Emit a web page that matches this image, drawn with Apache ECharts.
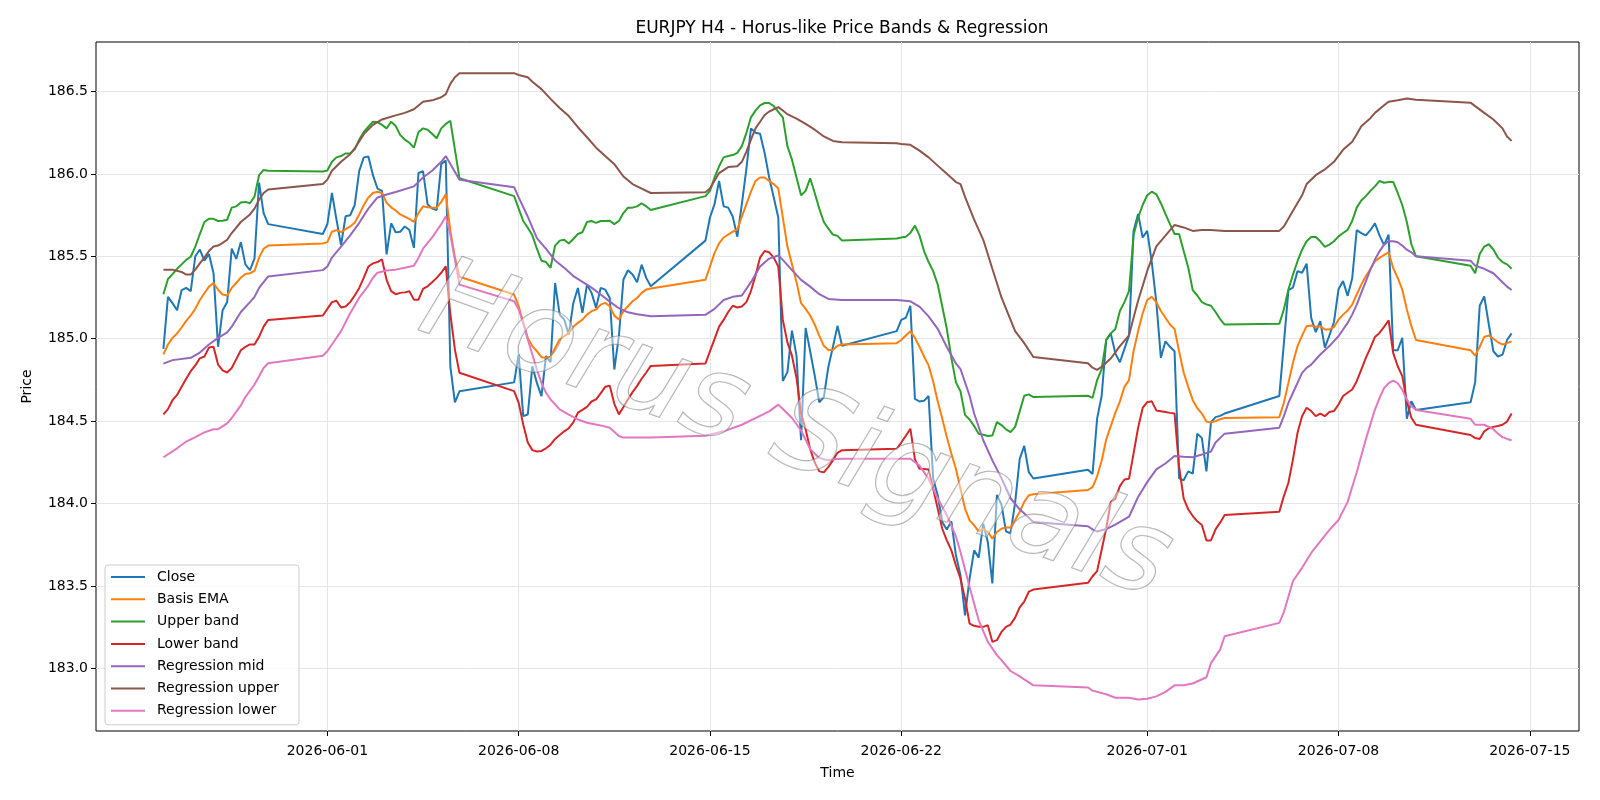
<!DOCTYPE html>
<html>
<head>
<meta charset="utf-8">
<title>EURJPY H4</title>
<script src="https://cdn.jsdelivr.net/npm/echarts@6/dist/echarts.min.js"></script>
<style>
  html, body { margin: 0; padding: 0; background: #fff; }
  #main { width: 1600px; height: 800px; }
</style>
</head>
<body>
<div id="main"></div>
<script>
// each row: [MM-DD, 00h, 04h, 08h, 12h, 16h, 20h]  (H4 bars, 2026)
var closeRows = [
  ['05-26',184.938,185.254,185.216,185.173,185.295,185.308],
  ['05-27',185.289,185.5,185.541,185.473,185.514,185.397],
  ['05-28',184.951,185.173,185.222,185.546,185.484,185.586],
  ['05-29',185.451,185.416,185.486,185.946,185.762,185.695],
  ['05-31',null,null,null,null,null,185.635],
  ['06-01',185.695,185.884,185.722,185.568,185.743,185.749],
  ['06-02',185.811,186.019,186.1,186.105,185.992,185.911],
  ['06-03',185.897,185.511,185.7,185.645,185.649,185.681],
  ['06-04',185.659,185.551,186.005,186.016,185.816,185.789],
  ['06-05',185.781,186.059,186.081,184.83,184.614,184.681],
  ['06-07',null,null,null,null,null,184.735],
  ['06-08',184.904,184.53,184.54,184.833,184.732,184.652],
  ['06-09',184.894,184.858,185.338,185.146,185.116,185.025],
  ['06-10',185.217,185.308,185.157,185.328,185.278,185.187],
  ['06-11',185.308,185.298,185.247,184.813,185.015,185.359],
  ['06-12',185.415,185.389,185.342,185.449,185.369,185.318],
  ['06-14',null,null,null,null,null,185.595],
  ['06-15',185.735,185.816,185.957,185.803,185.795,185.741],
  ['06-16',185.619,185.816,186.032,186.276,186.249,186.243],
  ['06-17',186.127,185.978,185.857,185.735,184.743,184.797],
  ['06-18',185.049,184.897,184.384,185.065,184.924,184.776],
  ['06-19',184.614,184.646,184.83,184.951,185.078,184.957],
  ['06-21',null,null,null,null,null,185.046],
  ['06-22',185.114,185.127,185.2,184.635,184.619,184.623],
  ['06-23',184.652,184.15,184.05,183.888,183.843,183.892],
  ['06-24',183.686,183.565,183.322,183.544,183.716,183.672],
  ['06-25',183.878,183.767,183.515,184.053,183.993,183.831],
  ['06-26',183.82,184.005,184.27,184.35,184.19,184.152],
  ['06-28',null,null,null,null,null,184.205],
  ['06-29',184.179,184.515,184.654,184.992,185.032,184.911],
  ['06-30',184.857,184.938,185.019,185.654,185.757,185.614],
  ['07-01',185.654,185.465,185.222,184.884,184.984,184.951],
  ['07-02',184.924,184.154,184.141,184.195,184.181,184.424],
  ['07-03',184.397,184.195,184.492,184.524,184.532,184.546],
  ['07-05',null,null,null,null,null,184.652],
  ['07-06',184.97,185.295,185.31,185.41,185.4,185.455],
  ['07-07',185.126,185.04,185.106,184.946,185.02,185.1],
  ['07-08',185.3,185.35,185.26,185.365,185.659,185.641],
  ['07-09',185.627,185.659,185.7,185.627,185.568,185.632],
  ['07-10',184.93,184.93,185.005,184.515,184.62,184.568],
  ['07-12',null,null,null,null,null,184.614],
  ['07-13',184.735,185.2,185.257,185.086,184.924,184.892],
  ['07-14',184.903,184.992,185.032]
];

var emaRows = [
  ['05-26',184.905,184.965,185.005,185.032,185.068,185.108],
  ['05-27',185.141,185.181,185.235,185.276,185.316,185.338],
  ['05-28',185.297,185.268,185.262,185.308,185.338,185.37],
  ['05-29',185.392,185.397,185.411,185.492,185.546,185.565],
  ['05-31',null,null,null,null,null,185.578],
  ['06-01',185.586,185.649,185.659,185.646,185.665,185.681],
  ['06-02',185.703,185.754,185.811,185.857,185.884,185.892],
  ['06-03',185.884,185.824,185.797,185.778,185.754,185.741],
  ['06-04',185.727,185.708,185.762,185.803,185.797,185.795],
  ['06-05',185.795,185.83,185.876,185.654,185.492,185.376],
  ['06-07',null,null,null,null,null,185.268],
  ['06-08',185.197,185.096,185.005,184.955,184.924,184.888],
  ['06-09',184.884,184.89,184.944,184.995,185.015,185.035],
  ['06-10',185.072,185.096,185.116,185.146,185.167,185.177],
  ['06-11',185.207,185.217,185.197,185.14,185.116,185.167],
  ['06-12',185.197,185.227,185.247,185.278,185.298,185.304],
  ['06-14',null,null,null,null,null,185.357],
  ['06-15',185.438,185.519,185.578,185.614,185.632,185.649],
  ['06-16',185.662,185.741,185.816,185.892,185.957,185.978],
  ['06-17',185.978,185.957,185.938,185.911,185.735,185.559],
  ['06-18',185.451,185.343,185.216,185.181,185.141,185.086],
  ['06-19',185.019,184.957,184.932,184.932,184.957,184.965],
  ['06-21',null,null,null,null,null,184.973],
  ['06-22',184.992,185.019,185.046,185.005,184.951,184.892],
  ['06-23',184.838,184.74,184.62,184.514,184.403,184.302],
  ['06-24',184.211,184.09,183.969,183.898,183.868,183.831],
  ['06-25',183.847,183.827,183.787,183.827,183.847,183.855],
  ['06-26',183.855,183.9,183.95,184.01,184.05,184.056],
  ['06-28',null,null,null,null,null,184.082],
  ['06-29',184.1,184.165,184.26,184.389,184.47,184.55],
  ['06-30',184.62,184.708,184.749,184.924,185.046,185.154],
  ['07-01',185.235,185.254,185.222,185.168,185.127,185.086],
  ['07-02',185.059,184.924,184.795,184.708,184.627,184.578],
  ['07-03',184.546,184.497,184.492,184.5,184.511,184.519],
  ['07-05',null,null,null,null,null,184.524],
  ['07-06',184.611,184.732,184.854,184.955,185.019,185.076],
  ['07-07',185.08,185.072,185.076,185.056,185.056,185.07],
  ['07-08',185.116,185.146,185.171,185.207,185.268,185.328],
  ['07-09',185.379,185.423,185.47,185.49,185.508,185.524],
  ['07-10',185.429,185.369,185.298,185.177,185.076,184.992],
  ['07-12',null,null,null,null,null,184.93],
  ['07-13',184.897,184.951,185.011,185.019,185.0,184.978],
  ['07-14',184.965,184.973,184.984]
];

var upperRows = [
  ['05-26',185.27,185.362,185.392,185.424,185.451,185.478],
  ['05-27',185.497,185.559,185.635,185.708,185.727,185.727],
  ['05-28',185.714,185.716,185.722,185.795,185.803,185.827],
  ['05-29',185.83,185.822,185.862,185.992,186.024,186.019],
  ['05-31',null,null,null,null,null,186.014],
  ['06-01',186.02,186.073,186.1,186.108,186.124,186.124],
  ['06-02',186.149,186.208,186.254,186.286,186.316,186.314],
  ['06-03',186.297,186.276,186.316,186.29,186.235,186.208],
  ['06-04',186.189,186.159,186.254,186.276,186.268,186.243],
  ['06-05',186.216,186.276,186.303,186.322,null,185.973],
  ['06-07',null,null,null,null,null,185.865],
  ['06-08',185.789,185.714,185.673,185.627,185.546,185.473],
  ['06-09',185.465,185.43,185.565,185.595,185.6,185.578],
  ['06-10',185.605,185.635,185.646,185.708,185.714,185.703],
  ['06-11',185.714,185.714,185.716,185.695,185.714,185.762],
  ['06-12',185.795,185.795,185.803,185.822,185.803,185.781],
  ['06-14',null,null,null,null,null,185.865],
  ['06-15',185.897,185.978,186.046,186.1,186.108,186.114],
  ['06-16',186.127,186.168,186.249,186.343,186.384,186.416],
  ['06-17',186.43,186.43,186.411,186.376,186.343,186.168],
  ['06-18',186.086,185.978,185.87,185.897,185.973,185.884],
  ['06-19',185.789,185.708,185.668,185.632,185.624,185.595],
  ['06-21',null,null,null,null,null,185.608],
  ['06-22',185.614,185.619,185.641,185.686,185.627,185.532],
  ['06-23',185.465,185.41,185.33,185.195,185.06,184.884],
  ['06-24',184.735,184.681,184.538,184.51,184.47,184.423],
  ['06-25',184.417,184.41,184.413,184.494,184.476,184.45],
  ['06-26',184.433,184.465,184.559,184.654,184.662,184.646],
  ['06-28',null,null,null,null,null,184.654],
  ['06-29',184.641,184.749,184.816,184.992,185.032,185.059],
  ['06-30',185.168,185.222,185.289,185.627,185.735,185.811],
  ['07-01',185.87,185.892,185.876,185.822,185.757,185.695],
  ['07-02',185.635,185.635,185.532,185.432,185.295,185.262],
  ['07-03',185.222,185.208,185.2,185.162,185.119,185.086],
  ['07-05',null,null,null,null,null,185.09],
  ['07-06',185.177,185.298,185.389,185.47,185.54,185.591],
  ['07-07',185.617,185.617,185.591,185.557,185.571,185.591],
  ['07-08',185.621,185.641,185.66,185.714,185.795,185.838],
  ['07-09',185.865,185.897,185.924,185.957,185.946,185.951],
  ['07-10',185.951,185.884,185.811,185.708,185.573,185.5],
  ['07-12',null,null,null,null,null,185.443],
  ['07-13',185.397,185.514,185.559,185.573,185.541,185.492],
  ['07-14',185.465,185.451,185.424]
];

var lowerRows = [
  ['05-26',184.541,184.573,184.627,184.659,184.708,184.757],
  ['05-27',184.803,184.838,184.881,184.892,184.946,184.951],
  ['05-28',184.843,184.808,184.795,184.822,184.876,184.93],
  ['05-29',184.951,184.965,184.965,185.011,185.073,185.114],
  ['05-31',null,null,null,null,null,185.141],
  ['06-01',185.181,185.222,185.23,185.189,185.195,185.222],
  ['06-02',185.262,185.308,185.37,185.438,185.457,185.465],
  ['06-03',185.481,185.357,185.289,185.27,185.278,185.281],
  ['06-04',185.288,185.237,185.237,185.302,185.318,185.342],
  ['06-05',185.369,185.4,185.439,185.15,184.934,184.793],
  ['06-07',null,null,null,null,null,184.682],
  ['06-08',184.611,184.48,184.37,184.324,184.316,184.319],
  ['06-09',184.335,184.357,184.392,184.416,184.438,184.457],
  ['06-10',184.492,184.551,184.568,184.586,184.619,184.632],
  ['06-11',184.668,184.708,184.714,184.605,184.541,184.586],
  ['06-12',184.632,184.676,184.714,184.757,184.795,184.835],
  ['06-14',null,null,null,null,null,184.849],
  ['06-15',184.924,184.997,185.073,185.114,185.162,185.2],
  ['06-16',185.189,185.195,185.222,185.289,185.384,185.492],
  ['06-17',185.532,185.524,185.492,185.438,185.114,184.978],
  ['06-18',184.897,184.762,184.546,184.451,184.33,184.249],
  ['06-19',184.195,184.189,184.222,184.262,184.308,184.324],
  ['06-21',null,null,null,null,null,184.332],
  ['06-22',184.37,184.411,184.454,184.268,184.211,184.21],
  ['06-23',184.207,184.09,183.969,183.847,183.777,183.716],
  ['06-24',183.625,183.544,183.423,183.272,183.258,183.252],
  ['06-25',183.252,183.262,183.161,183.171,183.221,183.252],
  ['06-26',183.266,183.308,183.37,183.405,183.465,183.478],
  ['06-28',null,null,null,null,null,183.519],
  ['06-29',183.559,183.59,183.72,183.85,184.01,184.028],
  ['06-30',184.106,184.146,184.15,184.303,184.46,184.58],
  ['07-01',184.615,184.62,184.565,184.56,184.555,184.55],
  ['07-02',184.546,184.222,184.032,183.965,183.924,183.892],
  ['07-03',183.87,183.776,183.776,183.843,183.884,183.93],
  ['07-05',null,null,null,null,null,183.95],
  ['07-06',184.045,184.126,184.268,184.429,184.53,184.581],
  ['07-07',184.561,184.53,184.546,184.53,184.555,184.561],
  ['07-08',184.601,184.652,184.672,184.692,184.742,184.813],
  ['07-09',184.884,184.944,185.011,185.035,185.072,185.112],
  ['07-10',184.914,184.833,184.773,184.62,184.52,184.478],
  ['07-12',null,null,null,null,null,184.416],
  ['07-13',184.397,184.392,184.438,184.457,184.465,184.47],
  ['07-14',184.478,184.497,184.546]
];

var regMidRows = [
  ['05-26',184.849,null,184.87,null,null,null],
  ['05-27',184.884,null,184.916,null,184.965,null],
  ['05-28',185.005,null,185.038,185.073,null,185.162],
  ['05-29',null,185.222,185.254,185.308,null,185.378],
  ['05-31',null,null,null,null,null,185.416],
  ['06-01',185.438,185.492,null,185.559,null,185.627],
  ['06-02',null,185.703,null,185.789,null,185.857],
  ['06-03',null,185.875,null,185.89,null,null],
  ['06-04',null,185.924,null,185.978,null,186.019],
  ['06-05',null,186.073,186.108,186.06,null,185.965],
  ['06-07',null,null,null,null,null,185.919],
  ['06-08',185.857,null,185.74,null,185.61,null],
  ['06-09',185.545,null,185.475,null,185.43,null],
  ['06-10',185.38,null,185.345,null,185.31,null],
  ['06-11',185.268,null,185.225,null,185.185,null],
  ['06-12',185.16,null,185.148,null,null,185.136],
  ['06-14',null,null,null,null,null,185.145],
  ['06-15',null,185.181,null,185.235,null,185.254],
  ['06-16',null,185.262,null,185.343,null,185.438],
  ['06-17',null,185.486,null,185.505,185.478,null],
  ['06-18',185.416,null,185.357,null,185.316,null],
  ['06-19',185.27,null,185.241,null,null,185.235],
  ['06-21',null,null,null,null,null,185.235],
  ['06-22',null,null,185.227,null,185.195,null],
  ['06-23',185.135,null,185.06,null,184.95,null],
  ['06-24',184.85,184.816,null,184.654,184.546,null],
  ['06-25',184.384,null,184.262,null,184.154,null],
  ['06-26',184.032,null,183.965,null,null,183.888],
  ['06-28',null,null,null,null,null,183.862],
  ['06-29',183.843,183.83,null,183.845,null,183.872],
  ['06-30',null,null,183.92,null,184.04,null],
  ['07-01',184.13,null,184.207,null,184.243,null],
  ['07-02',184.289,null,184.284,null,184.281,null],
  ['07-03',184.297,null,184.316,184.37,null,184.424],
  ['07-05',null,null,null,null,null,184.46],
  ['07-06',184.53,184.611,184.672,184.732,184.793,184.823],
  ['07-07',184.843,184.874,184.904,184.93,184.955,184.985],
  ['07-08',185.015,185.056,185.096,185.146,185.207,185.278],
  ['07-09',185.348,185.419,185.48,185.53,185.571,185.591],
  ['07-10',185.591,185.585,185.565,185.54,185.524,185.5],
  ['07-12',null,null,null,null,null,185.473],
  ['07-13',185.443,null,185.424,null,185.397,null],
  ['07-14',185.343,185.316,185.295]
];

var regUpperRows = [
  ['05-26',185.419,null,185.419,null,185.405,185.389],
  ['05-27',185.389,185.419,185.457,185.492,185.532,185.559],
  ['05-28',185.565,185.581,185.6,185.641,null,185.708],
  ['05-29',null,185.754,185.789,185.843,185.884,185.905],
  ['05-31',null,null,null,null,null,185.938],
  ['06-01',185.965,186.019,null,186.073,null,186.119],
  ['06-02',186.154,null,186.241,null,186.297,null],
  ['06-03',186.33,null,null,186.355,null,186.37],
  ['06-04',null,186.392,null,186.438,null,186.446],
  ['06-05',null,186.465,186.484,186.546,186.586,186.611],
  ['06-07',null,null,null,null,null,186.611],
  ['06-08',186.6,null,186.586,186.559,null,186.514],
  ['06-09',null,186.455,null,186.4,null,186.351],
  ['06-10',null,186.283,null,186.222,null,186.159],
  ['06-11',null,186.108,null,186.059,null,185.984],
  ['06-12',null,185.938,null,185.911,null,185.884],
  ['06-14',null,null,null,null,null,185.889],
  ['06-15',185.911,null,186.005,null,186.041,null],
  ['06-16',186.046,186.073,186.135,186.208,186.276,186.316],
  ['06-17',186.357,186.378,186.392,186.405,186.384,186.362],
  ['06-18',null,186.335,null,186.303,null,186.268],
  ['06-19',null,186.227,null,186.2,null,186.192],
  ['06-21',null,null,null,null,null,186.186],
  ['06-22',186.181,null,186.176,null,186.141,null],
  ['06-23',186.1,null,186.05,null,186.0,null],
  ['06-24',185.95,185.938,185.86,null,185.722,null],
  ['06-25',185.6,null,185.424,null,185.25,null],
  ['06-26',null,185.046,null,184.973,null,184.889],
  ['06-28',null,null,null,null,null,184.851],
  ['06-29',184.824,184.811,184.83,null,184.88,null],
  ['06-30',184.955,null,185.02,185.127,185.23,null],
  ['07-01',185.411,null,185.56,null,185.625,null],
  ['07-02',185.69,null,185.675,null,185.654,null],
  ['07-03',185.659,null,185.659,null,null,185.654],
  ['07-05',null,null,null,null,null,185.654],
  ['07-06',185.681,null,185.776,null,185.87,185.938],
  ['07-07',null,185.992,null,186.027,null,186.073],
  ['07-08',null,186.146,null,186.195,186.241,186.289],
  ['07-09',null,186.338,186.37,null,186.416,186.438],
  ['07-10',null,186.446,null,186.457,null,186.449],
  ['07-12',null,null,null,null,null,186.432],
  ['07-13',186.411,null,186.37,null,186.33,null],
  ['07-14',186.276,186.227,186.2]
];

var regLowerRows = [
  ['05-26',184.281,null,null,184.335,null,184.376],
  ['05-27',null,184.403,null,184.432,null,184.451],
  ['05-28',184.451,null,184.486,184.519,null,184.595],
  ['05-29',184.646,null,184.722,null,184.822,184.851],
  ['05-31',null,null,null,null,null,184.897],
  ['06-01',184.924,184.965,null,185.046,null,185.154],
  ['06-02',null,185.249,null,185.322,185.37,185.4],
  ['06-03',null,185.414,null,185.419,null,185.43],
  ['06-04',null,185.443,185.49,185.546,null,185.614],
  ['06-05',null,185.695,185.743,185.63,null,185.328],
  ['06-07',null,null,null,null,null,185.227],
  ['06-08',185.177,185.096,184.995,184.904,184.813,184.732],
  ['06-09',184.672,184.631,null,184.571,null,184.54],
  ['06-10',null,184.51,null,184.49,null,null],
  ['06-11',184.474,null,184.46,null,184.41,184.4],
  ['06-12',null,null,null,null,null,184.4],
  ['06-14',null,null,null,null,null,184.411],
  ['06-15',null,null,null,184.438,null,null],
  ['06-16',null,184.478,null,null,null,184.532],
  ['06-17',null,184.559,null,184.6,184.573,null],
  ['06-18',184.519,null,184.443,null,184.33,null],
  ['06-19',184.276,null,184.262,null,184.27,184.272],
  ['06-21',null,null,null,null,null,184.272],
  ['06-22',null,null,184.272,null,184.23,null],
  ['06-23',184.15,null,184.03,null,183.93,null],
  ['06-24',183.8,183.706,null,183.494,null,183.292],
  ['06-25',null,183.161,null,183.08,183.05,null],
  ['06-26',182.984,null,182.951,null,null,182.897],
  ['06-28',null,null,null,null,null,182.884],
  ['06-29',182.865,null,null,182.843,null,182.822],
  ['06-30',null,null,182.822,null,182.811,null],
  ['07-01',182.816,null,182.83,null,182.857,null],
  ['07-02',182.897,null,182.897,null,182.908,null],
  ['07-03',null,182.946,183.032,null,183.114,183.195],
  ['07-05',null,null,null,null,null,183.276],
  ['07-06',183.34,null,183.53,null,183.61,null],
  ['07-07',183.7,null,183.77,null,183.84,null],
  ['07-08',183.9,null,184.01,184.1,184.19,184.29],
  ['07-09',184.39,184.48,184.57,184.64,184.7,184.73],
  ['07-10',184.745,184.73,184.69,184.63,184.59,184.568],
  ['07-12',null,null,null,null,null,184.514],
  ['07-13',184.478,null,184.478,null,184.451,184.424],
  ['07-14',184.403,184.392,184.384]
];

var seriesNames = ['Close', 'Basis EMA', 'Upper band', 'Lower band',
                   'Regression mid', 'Regression upper', 'Regression lower'];
var seriesColors = ['#1f77b4', '#ff7f0e', '#2ca02c', '#d62728', '#9467bd', '#8c564b', '#e377c2'];
var seriesRows = [closeRows, emaRows, upperRows, lowerRows, regMidRows, regUpperRows, regLowerRows];

var xTickDates = ['2026-06-01', '2026-06-08', '2026-06-15', '2026-06-22', '2026-07-01', '2026-07-08', '2026-07-15'];
var yTicks = [183.0, 183.5, 184.0, 184.5, 185.0, 185.5, 186.0, 186.5];

function toTime(md, hour) {
  var p = md.split('-');
  return new Date(2026, +p[0] - 1, +p[1], hour).getTime();
}

function rowsToData(rows) {
  var out = [];
  rows.forEach(function (r) {
    for (var i = 1; i < r.length; i++) {
      if (r[i] == null) continue;
      out.push([toTime(r[0], (i - 1) * 4), r[i]]);
    }
  });
  return out;
}

function pad2(n) { return n < 10 ? '0' + n : '' + n; }
function fmtDate(v) {
  var d = new Date(v);
  return d.getFullYear() + '-' + pad2(d.getMonth() + 1) + '-' + pad2(d.getDate());
}

var xTicks = xTickDates.map(function (s) {
  var p = s.split('-');
  return new Date(+p[0], +p[1] - 1, +p[2]).getTime();
});

// matplotlib style 5% margins
var tFirst = toTime('05-26', 0);
var tLast = toTime('07-14', 8);
var tPad = (tLast - tFirst) * 0.05;

var font = 'DejaVu Sans';

function chart() {
  var myChart = echarts.init(document.getElementById('main'), null, { renderer: 'canvas' });

  var series = seriesRows.map(function (rows, i) {
    return {
      name: seriesNames[i],
      type: 'line',
      data: rowsToData(rows),
      symbol: 'none',
      showSymbol: false,
      color: seriesColors[i],
      lineStyle: { width: 2, color: seriesColors[i] },
      z: 3 + i,
      animation: false
    };
  });

  var option = {
    backgroundColor: '#fff',
    animation: false,
    title: {
      text: 'EURJPY H4 - Horus-like Price Bands & Regression',
      left: 837,
      top: 15,
      textAlign: 'center',
      textStyle: { fontFamily: font, fontSize: 17, fontWeight: 'normal', color: '#000' }
    },
    grid: {
      left: 96, right: 21, top: 42, bottom: 69,
      show: true, borderColor: '#000', borderWidth: 1, backgroundColor: 'transparent'
    },
    legend: {
      data: seriesNames,
      orient: 'vertical',
      left: 105,
      top: 565,
      padding: [5, 20, 7, 5],
      itemWidth: 34,
      itemHeight: 14,
      itemGap: 8.3,
      itemStyle: { opacity: 0 },
      backgroundColor: 'rgba(255,255,255,0.8)',
      borderColor: '#cccccc',
      borderWidth: 1,
      borderRadius: 3,
      textStyle: { fontFamily: font, fontSize: 14, color: '#000', padding: [0, 0, 0, 7] }
    },
    xAxis: {
      type: 'value',
      min: tFirst - tPad,
      max: tLast + tPad,
      name: 'Time',
      nameLocation: 'middle',
      nameGap: 35,
      nameTextStyle: { fontFamily: font, fontSize: 14, color: '#000' },
      axisLine: { show: false },
      axisTick: { show: true, inside: false, length: 5, lineStyle: { color: '#000' }, customValues: xTicks },
      axisLabel: { customValues: xTicks, formatter: fmtDate, color: '#000', fontFamily: font, fontSize: 14, margin: 13 },
      splitLine: { show: true, lineStyle: { color: '#e6e6e6', width: 1 } }
    },
    yAxis: {
      type: 'value',
      min: 182.62,
      max: 186.80,
      name: 'Price',
      nameLocation: 'middle',
      nameGap: 62,
      nameTextStyle: { fontFamily: font, fontSize: 14, color: '#000' },
      axisLine: { show: false },
      axisTick: { show: true, inside: false, length: 5, lineStyle: { color: '#000' }, customValues: yTicks },
      axisLabel: {
        customValues: yTicks,
        formatter: function (v) { return v.toFixed(1); },
        color: '#000', fontFamily: font, fontSize: 14, margin: 8
      },
      splitLine: { show: true, lineStyle: { color: '#e6e6e6', width: 1 } }
    },
    graphic: [{
      type: 'text',
      x: 795,
      y: 435,
      rotation: -20 * Math.PI / 180,
      z: 100,
      silent: true,
      style: {
        text: 'Horus Signals',
        font: 'italic 115px "DejaVu Sans"',
        align: 'center',
        verticalAlign: 'middle',
        textAlign: 'center',
        textVerticalAlign: 'middle',
        fill: 'rgba(255,255,255,0.45)',
        stroke: 'rgba(110,110,110,0.6)',
        lineWidth: 1.3,
        shadowColor: 'rgba(0,0,0,0.28)',
        shadowBlur: 3,
        shadowOffsetX: 4,
        shadowOffsetY: 4
      }
    }],
    series: series
  };

  myChart.setOption(option);
}

chart();
</script>
</body>
</html>
